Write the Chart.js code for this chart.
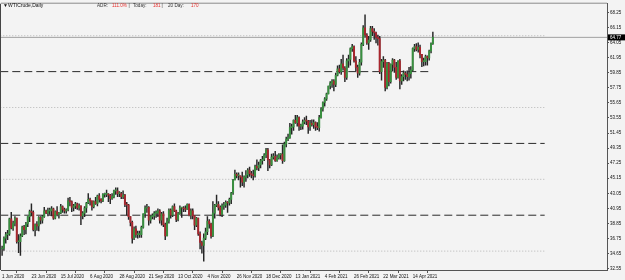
<!DOCTYPE html>
<html>
<head>
<meta charset="utf-8">
<script src="https://cdn.jsdelivr.net/npm/chart.js@4.4.0/dist/chart.umd.min.js"></script>
<style>
  html, body { margin: 0; padding: 0; background: #f3f3f3; }
  #wrap { position: relative; width: 625px; height: 280px; }
</style>
</head>
<body>
<div id="wrap"><canvas id="chart" width="625" height="280"></canvas></div>
<script>
// x axis labels, one every 16 daily bars starting at bar 0
var tickLabels = ['1 Jun 2020', '23 Jun 2020', '15 Jul 2020', '6 Aug 2020', '28 Aug 2020', '21 Sep 2020',
    '13 Oct 2020', '4 Nov 2020', '26 Nov 2020', '18 Dec 2020', '13 Jan 2021', '4 Feb 2021',
    '26 Feb 2021', '22 Mar 2021', '14 Apr 2021'];
var tickStep = 16;

var yTicks = [68.25, 66.15, 64.05, 61.95, 59.85, 57.75, 55.65, 53.55, 51.45, 49.35,
    47.25, 45.15, 43.05, 40.95, 38.85, 36.75, 34.65, 32.55];

// daily OHLC, Jun 2020 .. Apr 2021
var opens = [
    35.3,35.4,36.8,37.3,37.4,39.5,38.2,38.9,39.6,36.3,36.3,37.1,38.4,38.0,38.8,39.8,40.5,40.4,38.0,38.7,38.5,39.7,
    39.3,39.8,40.6,40.3,40.6,40.6,40.9,39.6,40.5,40.1,40.3,41.2,40.8,40.6,40.8,42.0,41.9,41.1,41.3,41.6,41.0,41.3,39.9,
    40.3,41.0,41.7,42.2,42.0,41.2,41.9,41.6,42.7,42.2,42.0,42.9,42.9,42.9,42.8,42.3,42.6,43.4,43.4,43.0,43.0,
    42.6,42.8,41.5,41.4,39.8,39.0,36.8,38.1,37.3,37.3,37.3,38.3,40.2,41.0,41.1,39.3,39.8,39.9,40.3,40.3,40.6,39.3,
    40.2,38.7,37.1,39.2,40.7,40.0,41.2,40.6,39.4,40.2,41.0,41.0,40.9,40.8,41.5,40.0,40.6,39.9,38.6,39.6,37.4,36.2,
    35.8,36.8,37.7,39.2,38.8,37.1,40.3,41.4,41.5,41.1,40.1,41.3,41.4,41.8,41.7,42.2,43.1,44.9,45.7,45.5,45.5,
    45.3,44.6,45.3,45.6,46.3,45.8,45.6,45.5,46.8,46.6,47.0,47.6,47.8,48.4,49.1,47.7,47.0,48.1,48.2,47.6,48.0,48.4,
    48.5,47.6,49.9,50.6,50.8,52.2,52.3,53.2,52.9,53.6,52.4,52.4,53.0,53.2,53.1,52.3,52.8,52.6,52.9,52.3,
    52.2,53.6,54.8,55.7,56.2,56.9,58.0,58.4,58.7,58.2,59.5,60.4,60.0,61.1,60.5,59.2,61.5,61.7,63.2,63.5,
    61.5,60.6,59.8,61.3,63.8,66.1,65.1,64.0,64.4,66.0,65.6,65.4,64.8,64.6,60.0,61.4,61.6,57.8,61.2,58.6,61.0,61.6,60.6,
    59.2,61.5,58.7,59.3,59.8,59.6,59.3,59.7,60.2,63.2,63.5,63.1,63.4,62.4,61.4,61.4,62.1,61.9,62.9,63.9
];
var highs = [
    35.7,37.0,37.6,37.9,39.6,40.4,39.2,39.8,39.6,37.3,37.4,38.5,38.6,39.0,39.8,40.7,41.6,40.6,38.8,39.1,39.8,39.8,
    40.0,41.1,40.7,41.0,41.0,41.2,41.0,40.6,41.2,40.4,41.5,41.3,41.0,40.9,42.4,42.5,42.0,41.5,41.8,41.7,41.6,41.3,40.5,
    41.2,41.8,43.0,42.4,42.0,42.0,42.5,42.8,43.0,42.3,43.0,43.1,43.5,43.0,42.9,43.0,43.5,43.8,43.8,43.3,43.2,
    43.4,42.9,41.8,41.5,39.8,39.2,38.4,38.5,37.8,37.8,38.5,40.2,41.3,41.5,41.2,39.9,40.2,40.5,40.6,40.9,40.8,40.4,
    40.5,38.9,39.6,40.9,40.9,41.3,41.6,40.7,40.4,41.3,41.0,41.2,41.3,41.6,41.6,40.9,40.9,39.9,39.7,39.6,37.7,36.4,
    37.4,38.2,39.8,39.4,38.9,41.9,41.5,42.8,41.9,41.3,41.6,41.8,42.0,41.9,42.4,43.2,45.0,46.3,45.9,45.9,45.5,
    46.0,45.5,46.2,46.5,46.7,46.1,46.3,47.0,47.7,47.4,47.8,48.2,48.6,49.3,49.3,47.8,48.5,48.6,48.9,48.4,48.6,48.6,
    49.8,50.2,50.9,51.3,52.8,52.7,53.3,53.9,53.9,53.7,52.7,53.3,53.6,53.8,53.2,53.2,53.3,53.3,53.0,52.9,
    53.9,55.0,55.8,56.4,57.0,58.0,58.6,58.9,58.9,59.8,60.8,60.9,61.7,62.3,60.7,61.8,62.3,63.3,63.8,63.6,
    62.1,60.9,61.7,64.0,66.4,67.9,65.3,64.9,66.3,66.3,66.0,65.5,65.1,64.9,61.7,62.1,61.7,61.3,61.3,61.1,61.8,61.7,61.3,
    61.5,61.7,59.6,60.1,60.0,60.1,60.6,60.7,63.3,63.8,63.9,64.0,63.7,62.4,61.9,62.3,62.2,63.0,64.0,65.5
];
var lows = [
    34.4,35.1,36.1,36.6,37.2,38.1,37.9,38.5,36.1,34.8,34.4,37.0,37.3,37.4,38.4,39.1,39.9,37.8,37.1,37.9,37.8,38.8,
    38.9,39.7,40.2,39.9,40.1,39.9,39.4,39.5,39.9,39.6,40.2,40.4,40.3,40.3,40.6,41.3,40.5,40.6,40.9,40.8,40.7,38.7,39.5,
    39.8,40.4,41.6,41.4,40.7,41.0,41.5,41.3,41.8,41.7,41.9,42.5,42.6,41.9,41.6,42.2,42.4,42.9,42.6,42.6,42.3,
    42.3,41.2,40.0,39.4,38.5,36.1,36.6,36.9,36.8,36.9,36.9,38.2,39.7,40.4,38.6,38.9,39.5,39.4,39.7,39.8,38.9,38.6,
    38.4,36.6,37.1,38.9,39.6,39.8,40.5,39.1,39.2,40.1,39.7,40.5,40.5,40.8,39.9,39.5,39.5,38.0,38.4,37.2,35.3,34.7,
    33.6,36.6,37.3,38.2,36.8,37.0,39.6,41.2,40.7,39.9,39.8,40.8,41.1,40.4,41.4,41.6,42.9,44.9,45.2,44.9,43.9,
    44.1,43.9,44.7,45.2,45.4,45.2,44.9,45.3,46.3,46.2,46.6,47.1,47.6,48.0,46.2,46.6,46.9,47.8,47.5,47.5,47.8,47.8,
    47.2,47.5,49.5,50.4,50.7,51.3,51.8,52.8,52.4,51.8,51.9,52.0,52.7,52.6,51.4,51.8,52.4,52.1,51.8,51.9,
    51.7,53.5,54.5,55.2,56.0,56.9,57.6,57.8,57.3,57.9,59.4,59.8,59.6,60.2,58.6,58.9,60.6,60.9,62.8,61.3,
    60.1,59.2,59.5,60.9,63.6,64.8,63.8,63.1,64.2,65.0,64.5,64.0,63.7,59.7,58.8,60.6,57.3,57.6,58.0,58.4,60.1,59.9,58.9,
    59.1,57.6,58.2,58.7,58.9,58.7,58.8,59.1,60.1,62.8,62.9,62.7,61.9,60.7,60.8,60.9,60.9,61.6,62.6,63.8
];
var closes = [
    35.4,36.8,37.3,37.4,39.5,38.2,38.9,39.6,36.3,36.3,37.1,38.4,38.0,38.8,39.8,40.5,40.4,38.0,38.7,38.5,39.7,39.3,
    39.8,40.6,40.3,40.6,40.6,40.9,39.6,40.5,40.1,40.3,41.2,40.8,40.6,40.8,42.0,41.9,41.1,41.3,41.6,41.0,41.3,39.9,40.3,
    41.0,41.7,42.2,42.0,41.2,41.9,41.6,42.7,42.2,42.0,42.9,42.9,42.9,42.8,42.3,42.6,43.4,43.4,43.0,43.0,42.6,
    42.8,41.5,41.4,39.8,39.0,36.8,38.1,37.3,37.3,37.3,38.3,40.2,41.0,41.1,39.3,39.8,39.9,40.3,40.3,40.6,39.3,40.2,
    38.7,37.1,39.2,40.7,40.0,41.2,40.6,39.4,40.2,41.0,41.0,40.9,40.8,41.5,40.0,40.6,39.9,38.6,39.6,37.4,36.2,35.8,
    36.8,37.7,39.2,38.8,37.1,40.3,41.4,41.5,41.1,40.1,41.3,41.4,41.8,41.7,42.2,43.1,44.9,45.7,45.5,45.5,45.3,
    44.6,45.3,45.6,46.3,45.8,45.6,45.5,46.8,46.6,47.0,47.6,47.8,48.4,49.1,47.7,47.0,48.1,48.2,47.6,48.0,48.4,48.5,
    47.6,49.9,50.6,50.8,52.2,52.3,53.2,52.9,53.6,52.4,52.4,53.0,53.2,53.1,52.3,52.8,52.6,52.9,52.3,52.2,
    53.6,54.8,55.7,56.2,56.9,58.0,58.4,58.7,58.2,59.5,60.4,60.0,61.1,60.5,59.2,61.5,61.7,63.2,63.5,61.5,
    60.6,59.8,61.3,63.8,66.1,65.1,64.0,64.4,66.0,65.6,65.4,64.8,64.6,60.0,61.4,61.6,57.8,61.2,58.6,61.0,61.6,60.6,59.2,
    61.5,58.7,59.3,59.8,59.6,59.3,59.7,60.2,63.2,63.5,63.1,63.4,62.4,61.4,61.4,62.1,61.9,62.9,63.9,64.77
];

// horizontal levels drawn on the chart (price, last bar index they reach)
var dashedLevels = [60, 50, 40];
var dashedEnds = [234, 296, 296];
var dottedLevels = [65, 55, 45, 35];
var dottedEnds = [296, 296, 296, 296];
var lastPrice = closes[closes.length - 1];

var bull = '#38903f';
var bear = '#a8262d';
var fontFam = "'Liberation Sans', Arial, sans-serif";

var bodies = [];
var wicks = [];
var bodyColors = [];
for (var i = 0; i < closes.length; i++) {
    bodies.push({x: i, y: [opens[i], closes[i]]});
    wicks.push({x: i, y: [lows[i], highs[i]]});
    bodyColors.push(closes[i] >= opens[i] ? bull : bear);
}

var datasets = [
    {type: 'bar', data: bodies, backgroundColor: bodyColors, barThickness: 1.3, grouped: false, minBarLength: 1},
    {type: 'bar', data: wicks, backgroundColor: '#262626', barThickness: 0.8, grouped: false}
];

dashedLevels.forEach(function(lvl, k) {
    datasets.push({type: 'line', data: [{x: -1, y: lvl}, {x: dashedEnds[k], y: lvl}],
        borderColor: '#2a2a2a', borderWidth: 1, borderDash: [8, 4], pointRadius: 0, fill: false});
});
dottedLevels.forEach(function(lvl, k) {
    datasets.push({type: 'line', data: [{x: -1, y: lvl}, {x: dottedEnds[k], y: lvl}],
        borderColor: '#b5b5b5', borderWidth: 1, borderDash: [1, 2], pointRadius: 0, fill: false});
});
datasets.push({type: 'line', data: [{x: -1, y: lastPrice}, {x: 331, y: lastPrice}],
    borderColor: '#a0a0a0', borderWidth: 1, pointRadius: 0, fill: false});

var frame = {
    id: 'frame',
    afterDraw: function(chart) {
        var ctx = chart.ctx, a = chart.chartArea;
        ctx.save();
        ctx.strokeStyle = '#8a8a8a';
        ctx.lineWidth = 1;
        ctx.beginPath();
        ctx.moveTo(a.left, a.top - 0.5);
        ctx.lineTo(a.right, a.top - 0.5);
        ctx.stroke();
        ctx.strokeStyle = '#444';
        ctx.beginPath();
        ctx.moveTo(a.left - 0.5, a.top);
        ctx.lineTo(a.left - 0.5, a.bottom);
        ctx.stroke();

        // header texts
        ctx.textBaseline = 'middle';
        ctx.font = '5px ' + fontFam;
        ctx.fillStyle = '#111';
        ctx.fillText('\u25BC', 3, 5.5);
        ctx.fillText('WTICrude,Daily', 8, 5.5);
        var parts = [['ADR:', 97, '#333'], ['111.0%', 112, '#e8302e'], ['|', 128.5, '#333'],
            ['Today:', 133, '#333'], ['181', 153, '#e8302e'], ['|', 161.5, '#333'],
            ['20 Day:', 168, '#333'], ['170', 191, '#e8302e']];
        ctx.font = '4.6px ' + fontFam;
        parts.forEach(function(p) {
            ctx.fillStyle = p[2];
            ctx.fillText(p[0], p[1], 5.5);
        });

        // current price tag
        var y = chart.scales.y.getPixelForValue(lastPrice);
        ctx.fillStyle = '#000';
        ctx.fillRect(a.right + 1, y - 3, 17, 6);
        ctx.fillStyle = '#fff';
        ctx.font = '4.5px ' + fontFam;
        ctx.fillText(lastPrice.toFixed(2), a.right + 3, y + 0.3);
        ctx.restore();
    }
};

var chart = new Chart(document.getElementById('chart'), {
    type: 'bar',
    data: {datasets: datasets},
    options: {
        responsive: false,
        animation: false,
        devicePixelRatio: 1,
        layout: {padding: {left: 1, top: 2, right: 0, bottom: 0}},
        plugins: {legend: {display: false}, tooltip: {enabled: false}},
        scales: {
            x: {
                type: 'linear', min: -0.6, max: 330, offset: false,
                afterBuildTicks: function(s) {
                    s.ticks = tickLabels.map(function(t, k) { return {value: k * tickStep}; });
                },
                afterFit: function(s) { s.height = 10; },
                ticks: {
                    autoSkip: false, maxRotation: 0, align: 'start', padding: 1, color: '#111',
                    font: {family: fontFam, size: 4.5},
                    callback: function(v, idx) { return tickLabels[idx]; }
                },
                grid: {drawOnChartArea: false, tickLength: 3, color: '#555'},
                border: {color: '#555'}
            },
            y: {
                type: 'linear', position: 'right', min: 32.37, max: 69.46,
                afterBuildTicks: function(s) {
                    s.ticks = yTicks.map(function(v) { return {value: v}; });
                },
                afterFit: function(s) { s.width = 18; },
                ticks: {
                    padding: 1, color: '#111', font: {family: fontFam, size: 4.5},
                    callback: function(v) { return v.toFixed(2); }
                },
                grid: {drawOnChartArea: false, tickLength: 2, color: '#555'},
                border: {color: '#555'}
            }
        }
    },
    plugins: [frame]
});
</script>
</body>
</html>
